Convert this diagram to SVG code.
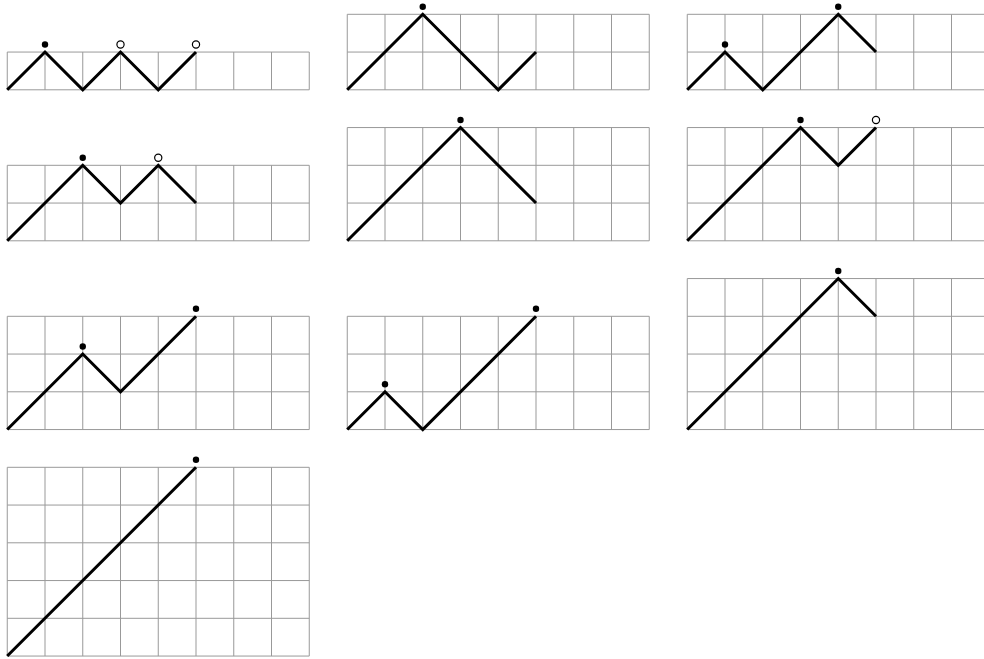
<svg xmlns="http://www.w3.org/2000/svg" xmlns:xlink="http://www.w3.org/1999/xlink" width="984" height="659" viewBox="0 0 984 659">
<style>
.grid{fill:none;stroke:#999;stroke-width:1}
.walk{fill:none;stroke:#000;stroke-width:3;stroke-linejoin:miter;stroke-linecap:butt}
.dot{fill:#000}
.hole{fill:#fff;stroke:#000;stroke-width:1.2}
</style>
<defs>
<path id="g1" class="grid" d="M0 0H302M0-37.75H302M0 0V-37.75M37.75 0V-37.75M75.5 0V-37.75M113.25 0V-37.75M151 0V-37.75M188.75 0V-37.75M226.5 0V-37.75M264.25 0V-37.75M302 0V-37.75"/>
<path id="g2" class="grid" d="M0 0H302M0-37.75H302M0-75.5H302M0 0V-75.5M37.75 0V-75.5M75.5 0V-75.5M113.25 0V-75.5M151 0V-75.5M188.75 0V-75.5M226.5 0V-75.5M264.25 0V-75.5M302 0V-75.5"/>
<path id="g3" class="grid" d="M0 0H302M0-37.75H302M0-75.5H302M0-113.25H302M0 0V-113.25M37.75 0V-113.25M75.5 0V-113.25M113.25 0V-113.25M151 0V-113.25M188.75 0V-113.25M226.5 0V-113.25M264.25 0V-113.25M302 0V-113.25"/>
<path id="g4" class="grid" d="M0 0H302M0-37.75H302M0-75.5H302M0-113.25H302M0-151H302M0 0V-151M37.75 0V-151M75.5 0V-151M113.25 0V-151M151 0V-151M188.75 0V-151M226.5 0V-151M264.25 0V-151M302 0V-151"/>
<path id="g5" class="grid" d="M0 0H302M0-37.75H302M0-75.5H302M0-113.25H302M0-151H302M0-188.75H302M0 0V-188.75M37.75 0V-188.75M75.5 0V-188.75M113.25 0V-188.75M151 0V-188.75M188.75 0V-188.75M226.5 0V-188.75M264.25 0V-188.75M302 0V-188.75"/>
</defs>
<rect width="984" height="659" fill="#fff"/>

<g id="panel1" transform="translate(7.25,89.8)">
<use xlink:href="#g1" href="#g1"/>
<path class="walk" d="M0 0L37.75-37.75L75.5 0L113.25-37.75L151 0L188.75-37.75"/>
<circle class="dot" cx="37.75" cy="-45.25" r="3.2"/>
<circle class="hole" cx="113.25" cy="-45.25" r="3.6"/>
<circle class="hole" cx="188.75" cy="-45.25" r="3.6"/>
</g>

<g id="panel2" transform="translate(347.25,89.8)">
<use xlink:href="#g2" href="#g2"/>
<path class="walk" d="M0 0L75.5-75.5L151 0L188.75-37.75"/>
<circle class="dot" cx="75.5" cy="-83" r="3.2"/>
</g>

<g id="panel3" transform="translate(687.25,89.8)">
<use xlink:href="#g2" href="#g2"/>
<path class="walk" d="M0 0L37.75-37.75L75.5 0L151-75.5L188.75-37.75"/>
<circle class="dot" cx="37.75" cy="-45.25" r="3.2"/>
<circle class="dot" cx="151" cy="-83" r="3.2"/>
</g>

<g id="panel4" transform="translate(7.25,240.8)">
<use xlink:href="#g2" href="#g2"/>
<path class="walk" d="M0 0L75.5-75.5L113.25-37.75L151-75.5L188.75-37.75"/>
<circle class="dot" cx="75.5" cy="-83" r="3.2"/>
<circle class="hole" cx="151" cy="-83" r="3.6"/>
</g>

<g id="panel5" transform="translate(347.25,240.8)">
<use xlink:href="#g3" href="#g3"/>
<path class="walk" d="M0 0L113.25-113.25L188.75-37.75"/>
<circle class="dot" cx="113.25" cy="-120.75" r="3.2"/>
</g>

<g id="panel6" transform="translate(687.25,240.8)">
<use xlink:href="#g3" href="#g3"/>
<path class="walk" d="M0 0L113.25-113.25L151-75.5L188.75-113.25"/>
<circle class="dot" cx="113.25" cy="-120.75" r="3.2"/>
<circle class="hole" cx="188.75" cy="-120.75" r="3.6"/>
</g>

<g id="panel7" transform="translate(7.25,429.55)">
<use xlink:href="#g3" href="#g3"/>
<path class="walk" d="M0 0L75.5-75.5L113.25-37.75L188.75-113.25"/>
<circle class="dot" cx="75.5" cy="-83" r="3.2"/>
<circle class="dot" cx="188.75" cy="-120.75" r="3.2"/>
</g>

<g id="panel8" transform="translate(347.25,429.55)">
<use xlink:href="#g3" href="#g3"/>
<path class="walk" d="M0 0L37.75-37.75L75.5 0L188.75-113.25"/>
<circle class="dot" cx="37.75" cy="-45.25" r="3.2"/>
<circle class="dot" cx="188.75" cy="-120.75" r="3.2"/>
</g>

<g id="panel9" transform="translate(687.25,429.55)">
<use xlink:href="#g4" href="#g4"/>
<path class="walk" d="M0 0L151-151L188.75-113.25"/>
<circle class="dot" cx="151" cy="-158.5" r="3.2"/>
</g>

<g id="panel10" transform="translate(7.25,656.05)">
<use xlink:href="#g5" href="#g5"/>
<path class="walk" d="M0 0L188.75-188.75"/>
<circle class="dot" cx="188.75" cy="-196.25" r="3.2"/>
</g>
</svg>
